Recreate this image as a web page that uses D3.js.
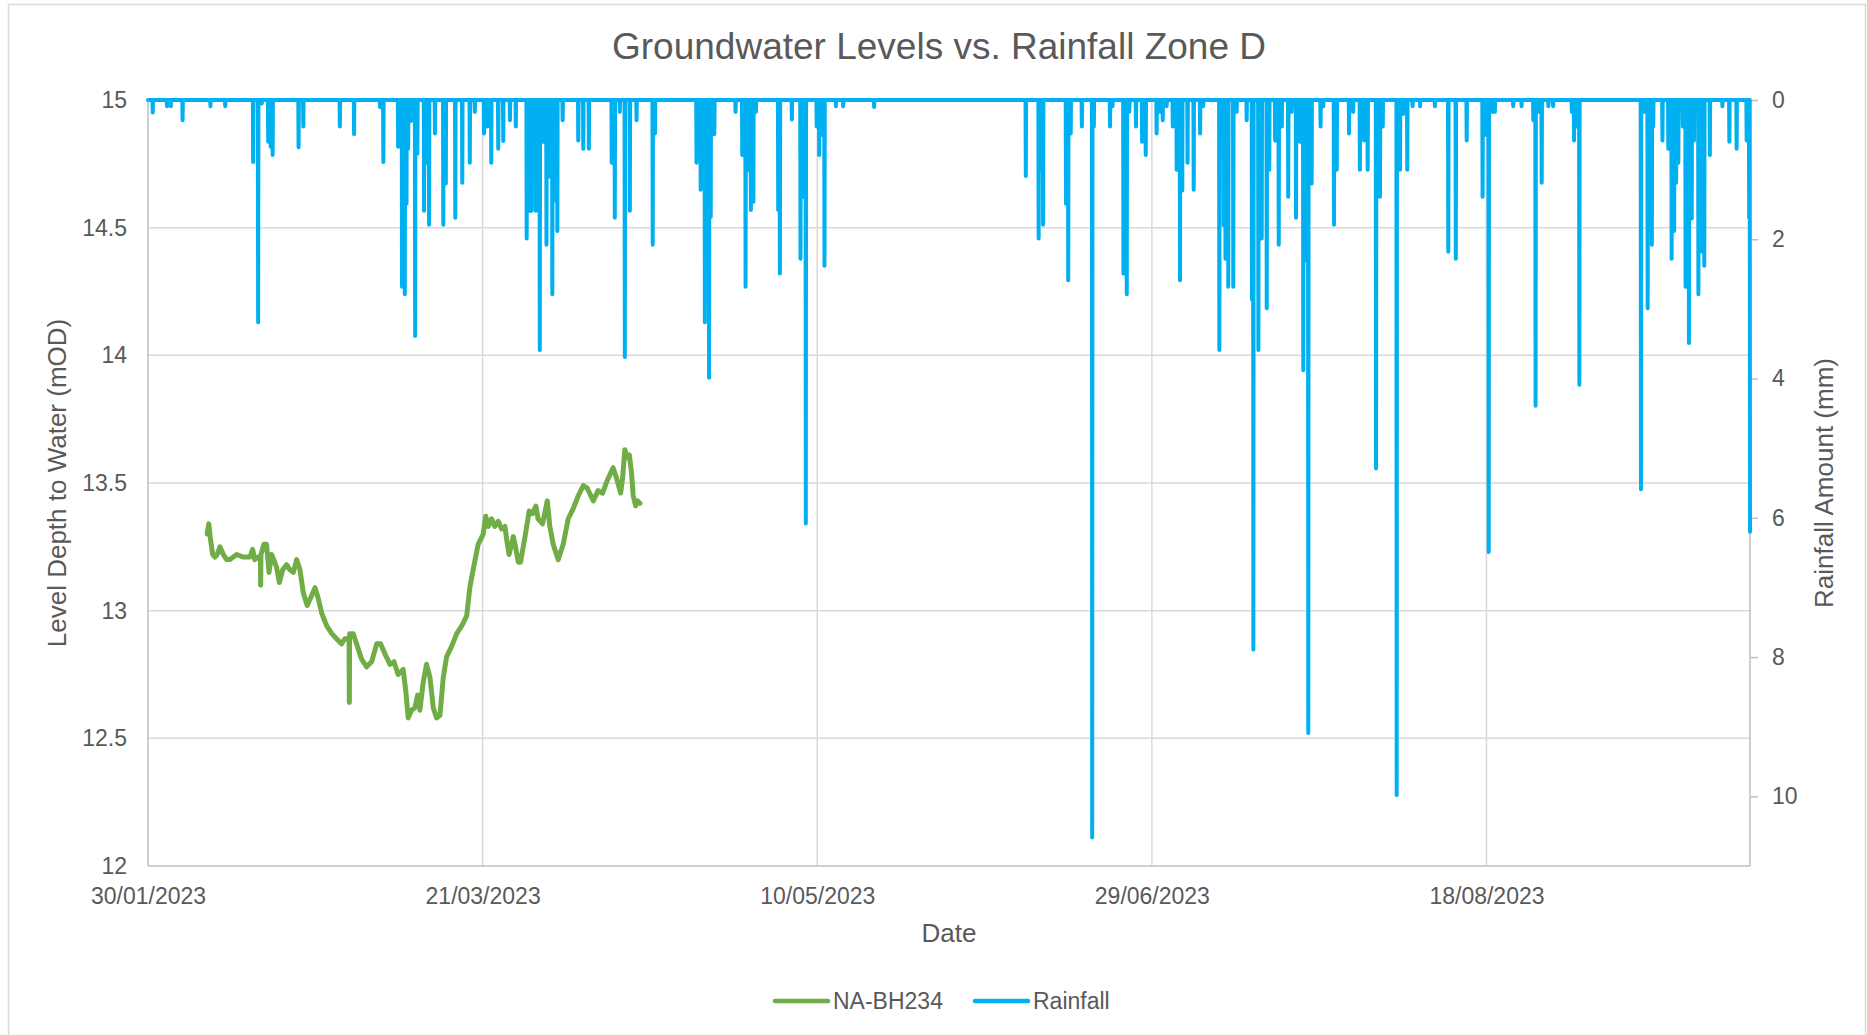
<!DOCTYPE html>
<html><head><meta charset="utf-8">
<script src="https://cdn.jsdelivr.net/npm/d3@7"></script>
<style>
body{margin:0;background:#fff}
svg{display:block}
text{font-family:"Liberation Sans",Arial,sans-serif;fill:#595959}
</style>
</head><body><svg id="chart" width="1867" height="1035"></svg>
<script>
const chartTitle = "Groundwater Levels vs. Rainfall Zone D";
const startDate = "30/01/2023 00:00";
const endDate = "26/09/2023 09:00";
const xTickDates = ["30/01/2023 00:00","21/03/2023 00:00","10/05/2023 00:00","29/06/2023 00:00","18/08/2023 00:00"];
const levelTicks = [12,12.5,13,13.5,14,14.5,15];
const rainTicks = [0,2,4,6,8,10];
const seriesNames = ["NA-BH234","Rainfall"];

const gwTimes = ["07/02/2023 20:00","08/02/2023 02:00","08/02/2023 08:00","08/02/2023 16:00","09/02/2023 00:00","09/02/2023 08:00","09/02/2023 18:00","10/02/2023 06:00","10/02/2023 18:00","11/02/2023 06:00","12/02/2023 06:00","13/02/2023 06:00","14/02/2023 06:00","14/02/2023 15:00","14/02/2023 23:00","15/02/2023 11:00","15/02/2023 19:00","15/02/2023 20:00","15/02/2023 21:00","16/02/2023 08:00","16/02/2023 17:00","17/02/2023 02:00","17/02/2023 11:00","17/02/2023 19:00","18/02/2023 05:00","18/02/2023 15:00","19/02/2023 03:00","19/02/2023 17:00","20/02/2023 05:00","20/02/2023 17:00","21/02/2023 05:00","21/02/2023 17:00","22/02/2023 05:00","22/02/2023 19:00","23/02/2023 07:00","23/02/2023 23:00","24/02/2023 10:00","24/02/2023 23:00","25/02/2023 17:00","26/02/2023 11:00","27/02/2023 04:00","27/02/2023 22:00","28/02/2023 10:00","28/02/2023 22:00","01/03/2023 01:00","01/03/2023 02:00","01/03/2023 03:00","01/03/2023 16:00","02/03/2023 04:00","02/03/2023 22:00","03/03/2023 16:00","04/03/2023 10:00","05/03/2023 04:00","05/03/2023 18:00","06/03/2023 10:00","07/03/2023 04:00","07/03/2023 18:00","08/03/2023 09:00","09/03/2023 03:00","09/03/2023 13:00","09/03/2023 21:00","10/03/2023 09:00","10/03/2023 21:00","11/03/2023 07:00","11/03/2023 15:00","12/03/2023 03:00","12/03/2023 15:00","13/03/2023 03:00","13/03/2023 15:00","14/03/2023 03:00","14/03/2023 15:00","15/03/2023 03:00","15/03/2023 15:00","16/03/2023 09:00","17/03/2023 03:00","17/03/2023 21:00","18/03/2023 15:00","19/03/2023 02:00","19/03/2023 14:00","20/03/2023 08:00","21/03/2023 02:00","21/03/2023 11:00","21/03/2023 20:00","22/03/2023 08:00","22/03/2023 20:00","23/03/2023 08:00","23/03/2023 20:00","24/03/2023 08:00","24/03/2023 14:00","24/03/2023 23:00","25/03/2023 14:00","25/03/2023 22:00","26/03/2023 08:00","26/03/2023 16:00","27/03/2023 08:00","27/03/2023 23:00","28/03/2023 11:00","28/03/2023 23:00","29/03/2023 07:00","29/03/2023 23:00","30/03/2023 16:00","31/03/2023 01:00","31/03/2023 13:00","01/04/2023 07:00","02/04/2023 01:00","02/04/2023 19:00","03/04/2023 13:00","04/04/2023 07:00","05/04/2023 01:00","05/04/2023 15:00","06/04/2023 13:00","07/04/2023 06:00","07/04/2023 22:00","08/04/2023 15:00","09/04/2023 12:00","10/04/2023 00:00","10/04/2023 15:00","10/04/2023 22:00","11/04/2023 06:00","11/04/2023 15:00","11/04/2023 22:00","12/04/2023 06:00","12/04/2023 12:00","12/04/2023 21:00","13/04/2023 04:00","13/04/2023 12:00"];
const gwLevels = [13.30,13.34,13.28,13.22,13.21,13.22,13.25,13.22,13.20,13.20,13.22,13.21,13.21,13.24,13.20,13.21,13.21,13.10,13.22,13.26,13.26,13.15,13.22,13.20,13.17,13.11,13.16,13.18,13.16,13.15,13.20,13.16,13.07,13.02,13.05,13.09,13.05,12.99,12.94,12.91,12.89,12.87,12.89,12.89,12.89,12.64,12.91,12.91,12.87,12.81,12.78,12.80,12.87,12.87,12.83,12.79,12.80,12.75,12.77,12.68,12.58,12.61,12.62,12.67,12.61,12.72,12.79,12.74,12.62,12.58,12.59,12.74,12.82,12.86,12.91,12.94,12.98,13.09,13.16,13.26,13.30,13.37,13.33,13.36,13.33,13.35,13.32,13.33,13.28,13.22,13.29,13.25,13.19,13.19,13.29,13.39,13.38,13.41,13.36,13.34,13.43,13.33,13.26,13.20,13.26,13.36,13.40,13.45,13.49,13.48,13.43,13.47,13.46,13.51,13.56,13.52,13.46,13.52,13.63,13.60,13.61,13.54,13.45,13.41,13.43,13.42];

const rainTimes = ["30/01/2023 17:00","01/02/2023 20:00","02/02/2023 10:00","04/02/2023 04:00","08/02/2023 08:00","10/02/2023 13:00","14/02/2023 17:00","15/02/2023 11:00","16/02/2023 00:00","16/02/2023 23:00","17/02/2023 08:00","17/02/2023 15:00","21/02/2023 12:00","22/02/2023 05:00","27/02/2023 16:00","01/03/2023 19:00","05/03/2023 16:00","06/03/2023 04:00","08/03/2023 09:00","08/03/2023 23:00","09/03/2023 09:00","09/03/2023 15:00","09/03/2023 21:00","10/03/2023 07:00","10/03/2023 22:00","11/03/2023 06:00","12/03/2023 06:00","12/03/2023 17:00","13/03/2023 00:00","13/03/2023 21:00","15/03/2023 03:00","15/03/2023 12:00","16/03/2023 22:00","17/03/2023 23:00","19/03/2023 02:00","19/03/2023 20:00","21/03/2023 05:00","21/03/2023 17:00","22/03/2023 07:00","23/03/2023 08:00","24/03/2023 02:00","25/03/2023 02:00","25/03/2023 23:00","27/03/2023 14:00","27/03/2023 23:00","28/03/2023 08:00","28/03/2023 23:00","29/03/2023 13:00","30/03/2023 01:00","30/03/2023 13:00","31/03/2023 01:00","31/03/2023 10:00","31/03/2023 19:00","01/04/2023 04:00","01/04/2023 23:00","04/04/2023 07:00","05/04/2023 01:00","05/04/2023 21:00","09/04/2023 07:00","09/04/2023 18:00","10/04/2023 12:00","11/04/2023 06:00","12/04/2023 00:00","13/04/2023 00:00","15/04/2023 10:00","15/04/2023 18:00","21/04/2023 23:00","22/04/2023 14:00","23/04/2023 05:00","23/04/2023 20:00","24/04/2023 02:00","24/04/2023 15:00","27/04/2023 19:00","28/04/2023 19:00","29/04/2023 07:00","29/04/2023 17:00","30/04/2023 02:00","30/04/2023 11:00","30/04/2023 20:00","04/05/2023 04:00","04/05/2023 10:00","06/05/2023 05:00","07/05/2023 12:00","08/05/2023 00:00","08/05/2023 07:00","09/05/2023 22:00","10/05/2023 07:00","10/05/2023 18:00","11/05/2023 02:00","12/05/2023 19:00","13/05/2023 21:00","18/05/2023 12:00","10/06/2023 04:00","12/06/2023 02:00","12/06/2023 09:00","12/06/2023 18:00","16/06/2023 04:00","16/06/2023 12:00","16/06/2023 21:00","18/06/2023 13:00","20/06/2023 02:00","20/06/2023 08:00","22/06/2023 18:00","23/06/2023 03:00","24/06/2023 18:00","25/06/2023 06:00","25/06/2023 15:00","26/06/2023 15:00","27/06/2023 13:00","28/06/2023 02:00","29/06/2023 17:00","30/06/2023 05:00","30/06/2023 15:00","01/07/2023 05:00","02/07/2023 03:00","02/07/2023 17:00","03/07/2023 05:00","03/07/2023 13:00","04/07/2023 08:00","05/07/2023 06:00","06/07/2023 05:00","06/07/2023 16:00","09/07/2023 02:00","09/07/2023 10:00","09/07/2023 18:00","10/07/2023 00:00","10/07/2023 10:00","11/07/2023 04:00","11/07/2023 16:00","13/07/2023 04:00","13/07/2023 23:00","14/07/2023 04:00","14/07/2023 22:00","15/07/2023 10:00","16/07/2023 04:00","16/07/2023 13:00","17/07/2023 10:00","17/07/2023 23:00","18/07/2023 10:00","19/07/2023 09:00","19/07/2023 21:00","20/07/2023 13:00","21/07/2023 03:00","21/07/2023 15:00","22/07/2023 01:00","22/07/2023 09:00","22/07/2023 21:00","24/07/2023 05:00","24/07/2023 15:00","26/07/2023 05:00","26/07/2023 15:00","28/07/2023 11:00","29/07/2023 02:00","30/07/2023 02:00","30/07/2023 17:00","31/07/2023 06:00","01/08/2023 12:00","02/08/2023 02:00","02/08/2023 12:00","04/08/2023 14:00","05/08/2023 02:00","05/08/2023 13:00","06/08/2023 04:00","06/08/2023 23:00","08/08/2023 02:00","10/08/2023 07:00","12/08/2023 07:00","13/08/2023 10:00","15/08/2023 01:00","17/08/2023 10:00","17/08/2023 21:00","18/08/2023 08:00","18/08/2023 22:00","19/08/2023 06:00","22/08/2023 00:00","23/08/2023 06:00","25/08/2023 00:00","25/08/2023 08:00","25/08/2023 20:00","26/08/2023 06:00","27/08/2023 06:00","27/08/2023 23:00","30/08/2023 18:00","31/08/2023 02:00","31/08/2023 12:00","31/08/2023 21:00","10/09/2023 02:00","10/09/2023 13:00","11/09/2023 02:00","11/09/2023 17:00","11/09/2023 22:00","13/09/2023 07:00","14/09/2023 04:00","14/09/2023 16:00","15/09/2023 01:00","15/09/2023 08:00","15/09/2023 16:00","16/09/2023 08:00","16/09/2023 18:00","17/09/2023 06:00","17/09/2023 16:00","18/09/2023 00:00","18/09/2023 16:00","19/09/2023 06:00","19/09/2023 13:00","20/09/2023 09:00","22/09/2023 06:00","23/09/2023 07:00","24/09/2023 09:00","25/09/2023 21:00","26/09/2023 06:00","26/09/2023 09:00"];
const rainAmounts = [0.18,0.09,0.09,0.29,0.09,0.09,0.89,3.19,0.05,0.60,0.67,0.79,0.68,0.38,0.38,0.49,0.10,0.89,0.67,2.68,2.79,1.49,0.70,0.30,3.39,0.77,1.59,0.90,1.79,0.48,1.79,1.20,1.69,1.19,0.90,0.17,0.48,0.38,0.90,0.70,0.59,0.29,0.38,1.99,1.59,1.59,1.59,3.59,0.60,2.08,1.10,2.79,1.44,1.88,0.29,0.58,0.70,0.70,0.90,1.69,0.17,3.69,1.59,0.29,2.08,0.48,0.90,1.29,3.19,3.99,1.68,0.49,0.17,0.79,2.68,1.01,1.58,1.46,0.17,1.58,2.49,0.28,2.28,1.39,6.08,0.38,0.79,0.50,2.38,0.09,0.09,0.10,1.09,1.99,1.00,1.79,1.49,2.59,0.48,0.38,10.59,0.38,0.38,0.09,2.49,2.79,0.17,0.38,0.60,0.79,0.48,0.17,0.29,0.09,0.38,1.00,2.59,1.30,0.90,1.29,0.48,0.09,3.59,0.48,1.80,2.28,2.68,2.68,0.17,0.29,2.87,7.89,3.59,1.99,2.99,1.00,0.58,2.08,0.38,1.39,0.17,1.69,0.60,3.88,2.30,9.09,1.20,0.38,0.09,1.79,1.00,0.48,0.17,1.00,0.58,1.00,5.29,1.39,0.38,9.98,1.00,0.20,1.00,0.09,0.09,0.09,2.18,2.28,0.58,1.39,0.50,6.49,0.17,0.17,0.09,0.09,0.29,4.39,0.17,1.19,0.09,0.09,0.17,0.58,0.38,4.09,5.59,0.17,2.99,2.08,0.38,0.58,0.70,2.28,1.88,1.19,0.90,0.38,2.68,3.49,1.70,0.58,2.79,2.18,2.38,0.79,0.09,0.60,0.70,0.58,1.69,6.20];

const parse = d3.utcParse("%d/%m/%Y %H:%M");
const fmt = d3.utcFormat("%d/%m/%Y");
const M = {left:148, right:1750, top:100, bottom:866};
const COLORS = {gw:"#70AD47", rain:"#00B0F0", grid:"#D9D9D9", axis:"#BFBFBF", text:"#595959"};

const svg = d3.select("#chart");
svg.append("rect").attr("x",8.5).attr("y",4.5).attr("width",1857).attr("height",1040)
  .attr("fill","#fff").attr("stroke","#D9D9D9").attr("stroke-width",1.5);

const t0 = parse(startDate), t1 = parse(endDate);
const x = d3.scaleUtc().domain([t0,t1]).range([M.left,M.right]);
const yL = d3.scaleLinear().domain([12,15]).range([M.bottom,M.top]);
const yR = d3.scaleLinear().domain([0,11]).range([M.top,M.bottom]);

// gridlines
const g = svg.append("g");
g.selectAll(".hg").data(levelTicks.filter(v=>v>12)).join("line")
  .attr("x1",M.left).attr("x2",M.right).attr("y1",d=>yL(d)).attr("y2",d=>yL(d))
  .attr("stroke",COLORS.grid).attr("stroke-width",1.5);
g.selectAll(".vg").data(xTickDates.slice(1).map(parse)).join("line")
  .attr("x1",d=>x(d)).attr("x2",d=>x(d)).attr("y1",M.top).attr("y2",M.bottom)
  .attr("stroke",COLORS.grid).attr("stroke-width",1.5);

// axes
const axL = d3.axisLeft(yL).tickValues(levelTicks).tickFormat(d=>d).tickSize(0).tickPadding(21);
const gL = svg.append("g").attr("transform",`translate(${M.left},0)`).call(axL);
const axR = d3.axisRight(yR).tickValues(rainTicks).tickFormat(d=>d).tickSize(8).tickPadding(14);
const gR = svg.append("g").attr("transform",`translate(${M.right},0)`).call(axR);
const axB = d3.axisBottom(x).tickValues(xTickDates.map(parse)).tickFormat(fmt).tickSize(0).tickPadding(22);
const gB = svg.append("g").attr("transform",`translate(0,${M.bottom})`).call(axB);
[gL,gR,gB].forEach(a=>{
  a.select(".domain").attr("stroke",COLORS.axis).attr("stroke-width",1.5);
  a.selectAll(".tick line").attr("stroke",COLORS.axis).attr("stroke-width",1.5);
  a.selectAll("text").attr("fill",COLORS.text).style("font-size","23px")
   .style("font-family",'"Liberation Sans",Arial,sans-serif');
});
gR.select(".domain").attr("d",`M0,${M.top}V${M.bottom}`);
gL.select(".domain").attr("d",`M0,${M.top}V${M.bottom}`);
gB.select(".domain").attr("d",`M${M.left},0H${M.right}`);

// groundwater line
const gwData = gwTimes.map((t,i)=>({t:parse(t), v:gwLevels[i]}));
svg.append("path").datum(gwData)
  .attr("d", d3.line().x(d=>x(d.t)).y(d=>yL(d.v)))
  .attr("fill","none").attr("stroke",COLORS.gw).attr("stroke-width",5)
  .attr("stroke-linejoin","round").attr("stroke-linecap","round");

// rainfall line (hourly record, hours without rain recorded as 0)
const rainMap = new Map(rainTimes.map((t,i)=>[+parse(t), rainAmounts[i]]));
const hours = d3.utcHour.range(t0, d3.utcHour.offset(t1,1));
const rainData = hours.map(h=>({t:h, v: rainMap.has(+h) ? rainMap.get(+h) : 0}));
svg.append("path").datum(rainData)
  .attr("d", d3.line().x(d=>x(d.t)).y(d=>yR(d.v)))
  .attr("fill","none").attr("stroke",COLORS.rain).attr("stroke-width",4)
  .attr("stroke-linejoin","round").attr("stroke-linecap","round");

// titles
svg.append("text").attr("x",939).attr("y",59).attr("text-anchor","middle")
  .style("font-size","37px").text(chartTitle);
svg.append("text").attr("x",(M.left+M.right)/2).attr("y",942).attr("text-anchor","middle")
  .style("font-size","26px").text("Date");
svg.append("text").attr("transform",`translate(66,${(M.top+M.bottom)/2}) rotate(-90)`)
  .attr("text-anchor","middle").style("font-size","26px").text("Level Depth to Water (mOD)");
svg.append("text").attr("transform",`translate(1833,${(M.top+M.bottom)/2}) rotate(-90)`)
  .attr("text-anchor","middle").style("font-size","26px").text("Rainfall Amount (mm)");

// legend
const legend = [{name:seriesNames[0], c:COLORS.gw, x:775},{name:seriesNames[1], c:COLORS.rain, x:975}];
const lg = svg.append("g");
legend.forEach(l=>{
  lg.append("line").attr("x1",l.x).attr("x2",l.x+53).attr("y1",1001).attr("y2",1001)
    .attr("stroke",l.c).attr("stroke-width",4.5).attr("stroke-linecap","round");
  lg.append("text").attr("x",l.x+58).attr("y",1009).style("font-size","23px").text(l.name);
});
</script>
</body></html>
